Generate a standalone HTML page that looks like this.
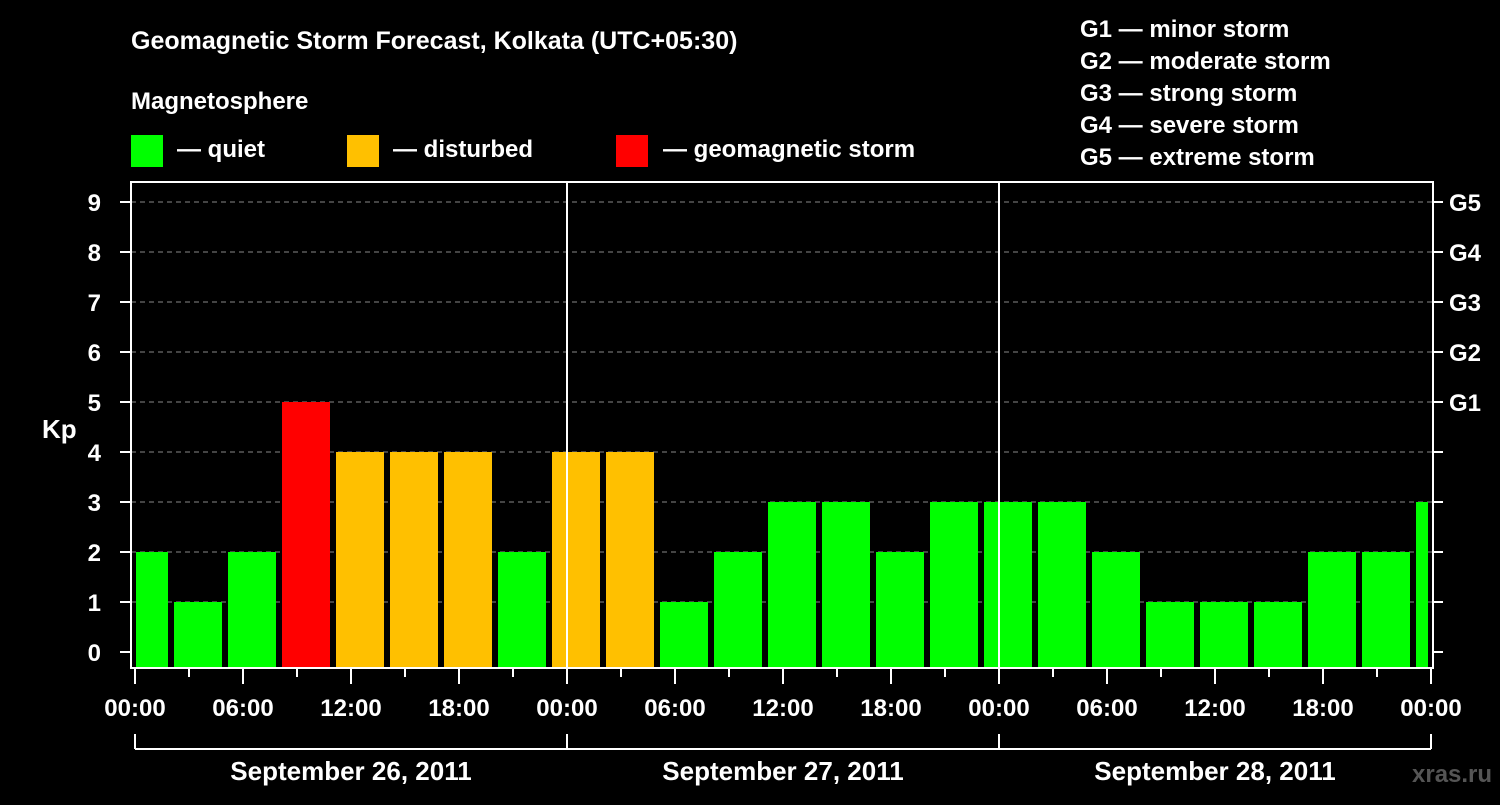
<!DOCTYPE html>
<html><head><meta charset="utf-8"><style>
body{margin:0;background:#000;width:1500px;height:800px;overflow:hidden}
svg text{font-family:"Liberation Sans",sans-serif;font-weight:bold;fill:#fff}
</style></head><body>
<svg id="c" width="1500" height="800">
<text x="131" y="49" font-size="25">Geomagnetic Storm Forecast, Kolkata (UTC+05:30)</text>
<text x="131" y="109" font-size="24">Magnetosphere</text>
<rect x="131" y="135" width="32" height="32" fill="#00ff00"/>
<text x="177" y="157" font-size="24">— quiet</text>
<rect x="347" y="135" width="32" height="32" fill="#ffc000"/>
<text x="393" y="157" font-size="24">— disturbed</text>
<rect x="616" y="135" width="32" height="32" fill="#ff0000"/>
<text x="663" y="157" font-size="24">— geomagnetic storm</text>
<g font-size="24">
<text x="1080" y="37">G1 — minor storm</text>
<text x="1080" y="69">G2 — moderate storm</text>
<text x="1080" y="101">G3 — strong storm</text>
<text x="1080" y="133">G4 — severe storm</text>
<text x="1080" y="165">G5 — extreme storm</text>
</g>
<text x="42" y="438" font-size="26">Kp</text>
<text x="1412" y="782" font-size="24" fill="#555" style="fill:#555">xras.ru</text>
<g id="grid"></g><g id="bars"></g><g id="axes"></g>
</svg>
<script>
const kpValues=[2,1,2,5,4,4,4,2,4,4,1,2,3,3,2,3,3,3,2,1,1,1,2,2,3];
const yTicks=[0,1,2,3,4,5,6,7,8,9];
const gLabels=["G1","G2","G3","G4","G5"];
const hourLabels=["00:00","06:00","12:00","18:00"];
const dayLabels=["September 26, 2011","September 27, 2011","September 28, 2011"];
const NS="http://www.w3.org/2000/svg";
const L=131,R=1433,T=182,B=668,X0=135,PXH=18;
const y=v=>652-50*v;
const x=h=>X0+PXH*h;
function mk(p,tag,a){const e=document.createElementNS(NS,tag);for(const k in a)e.setAttribute(k,a[k]);document.getElementById(p).appendChild(e);return e;}
yTicks.forEach(v=>{
 if(v>0){const g=mk('grid','line',{x1:L,x2:R,y1:y(v),y2:y(v),stroke:'#888','stroke-dasharray':'5,4'});
 
 }
 const t=mk('axes','text',{x:101,y:y(v)+9,'font-size':24,'text-anchor':'end'});t.textContent=v;
 
 
 mk('axes','line',{x1:120,x2:L,y1:y(v),y2:y(v),stroke:'#fff','stroke-width':2});
 mk('axes','line',{x1:R,x2:R+10,y1:y(v),y2:y(v),stroke:'#fff','stroke-width':2});
});
gLabels.forEach((g,i)=>{const t=mk('axes','text',{x:1449,y:y(5+i)+9,'font-size':24});t.textContent=g;
 
 });
kpValues.forEach((v,i)=>{
 let s=x(3*i-5/6*0)-15+0; // bar start
 s=X0-15+54*i; let e=s+48;
 s=Math.max(s,L+5);e=Math.min(e,R-5);
 const c=v>=5?'#ff0000':(v>=4?'#ffc000':'#00ff00');
 const b=mk('bars','rect',{x:s,y:y(v),width:e-s,height:B-y(v),fill:c});
 
 
});
// frame
mk('axes','rect',{x:L,y:T,width:R-L,height:B-T,fill:'none',stroke:'#fff','stroke-width':2});
[1,2].forEach(d=>mk('axes','line',{x1:x(24*d),x2:x(24*d),y1:T,y2:B,stroke:'#fff','stroke-width':2}));
for(let h=0;h<=72;h+=3){const maj=h%6===0;mk('axes','line',{x1:x(h),x2:x(h),y1:B,y2:B+(maj?16:9),stroke:'#fff','stroke-width':2});
 if(maj){const t=mk('axes','text',{x:x(h),y:716,'font-size':24,'text-anchor':'middle'});t.textContent=hourLabels[(h%24)/6];
 
 }}
mk('axes','line',{x1:x(0),x2:x(72),y1:749,y2:749,stroke:'#fff','stroke-width':2});
[0,1,2,3].forEach(d=>mk('axes','line',{x1:x(24*d),x2:x(24*d),y1:734,y2:749,stroke:'#fff','stroke-width':2}));
dayLabels.forEach((d,i)=>{const t=mk('axes','text',{x:x(24*i+12),y:780,'font-size':26,'text-anchor':'middle'});t.textContent=d;
 
 });
</script>
</body></html>
